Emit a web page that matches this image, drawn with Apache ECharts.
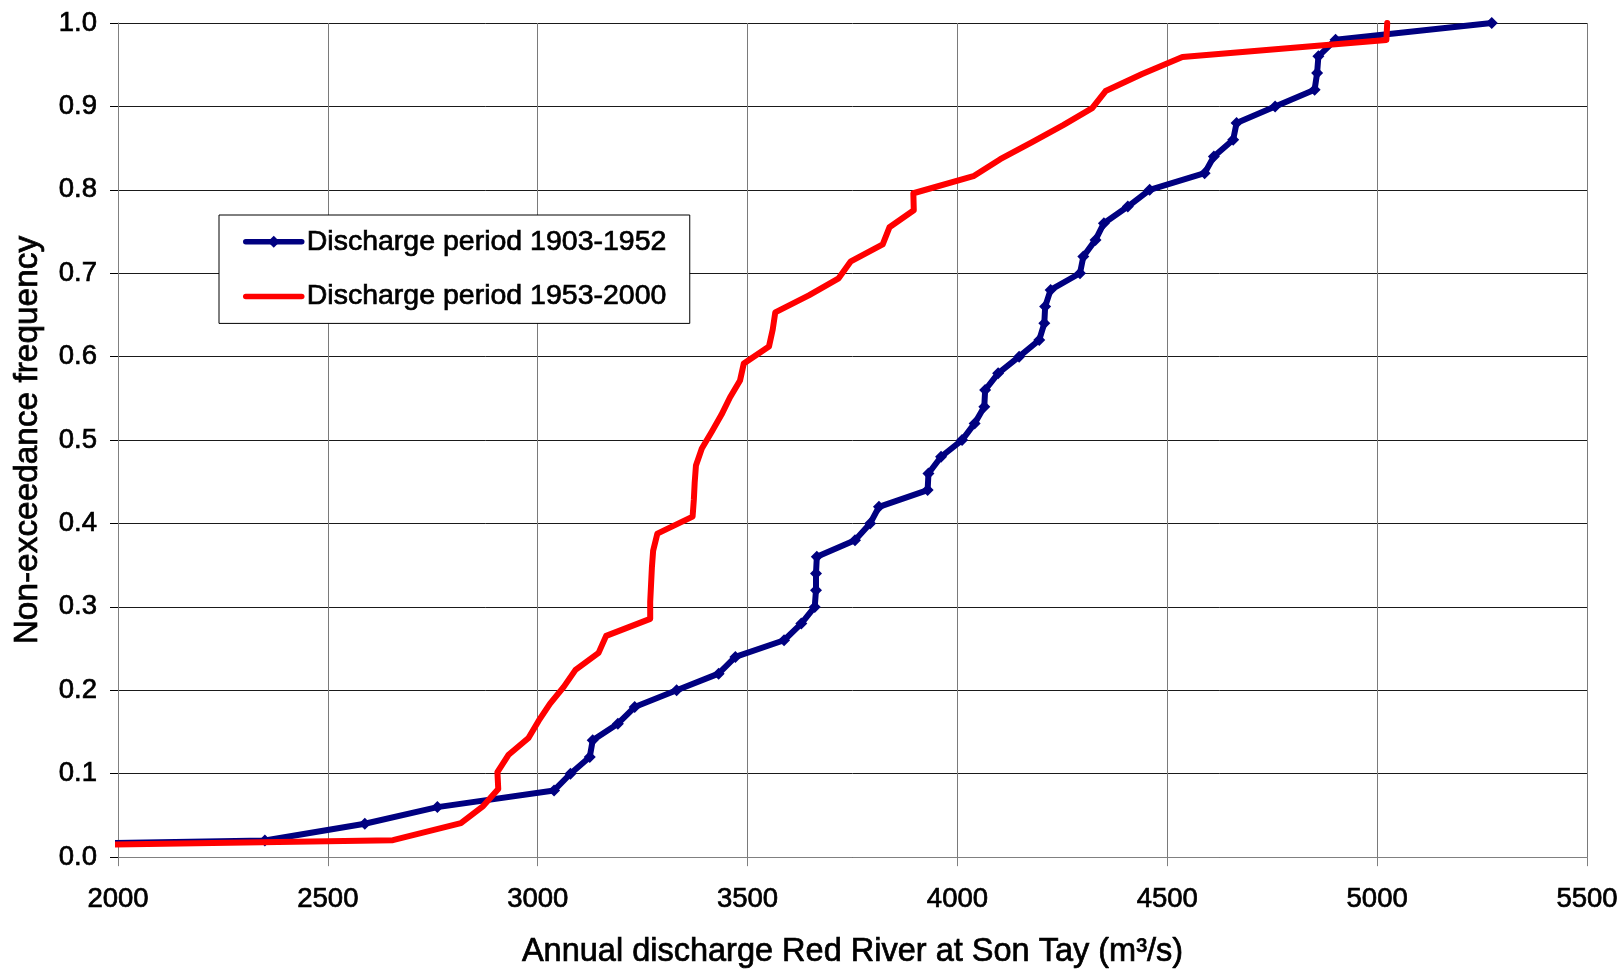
<!DOCTYPE html>
<html>
<head>
<meta charset="utf-8">
<title>Annual discharge Red River at Son Tay</title>
<script src="https://cdn.jsdelivr.net/npm/echarts@6/dist/echarts.min.js"></script>
<style>
  html, body { margin: 0; padding: 0; background: #fff; }
  #chart { width: 1624px; height: 974px; }
</style>
</head>
<body>
<div id="chart"></div>
<script>
// Annual discharge (m3/s), sorted, with its non-exceedance frequency.
// Each period starts from the origin (0, 0), which lies left of the visible axis range.
const period1Name = 'Discharge period 1903-1952';
const period1Discharge = [0, 2350, 2588, 2761, 3039, 3078, 3124, 3131, 3191, 3231, 3331,
  3431, 3471, 3587, 3628, 3660, 3663, 3663, 3665, 3756, 3792,
  3813, 3929, 3931, 3961, 4011, 4041, 4064, 4066, 4097, 4147,
  4195, 4207, 4209, 4222, 4292, 4300, 4329, 4349, 4406, 4458,
  4589, 4611, 4657, 4665, 4757, 4851, 4857, 4860, 4901, 5273];
const period1Frequency = [0, 0.02, 0.04, 0.06, 0.08, 0.10, 0.12, 0.14, 0.16, 0.18, 0.20,
  0.22, 0.24, 0.26, 0.28, 0.30, 0.32, 0.34, 0.36, 0.38, 0.40,
  0.42, 0.44, 0.46, 0.48, 0.50, 0.52, 0.54, 0.56, 0.58, 0.60,
  0.62, 0.64, 0.66, 0.68, 0.70, 0.72, 0.74, 0.76, 0.78, 0.80,
  0.82, 0.84, 0.86, 0.88, 0.90, 0.92, 0.94, 0.96, 0.98, 1.00];

const period2Name = 'Discharge period 1953-2000';
const period2Discharge = [0, 2655, 2817, 2870, 2906, 2904, 2930, 2978, 3002, 3029, 3062,
  3090, 3145, 3163, 3268, 3268, 3270, 3272, 3275, 3285, 3369,
  3372, 3374, 3377, 3391, 3415, 3438, 3458, 3482, 3491, 3551,
  3560, 3566, 3646, 3717, 3746, 3822, 3838, 3896, 3895, 4038,
  4102, 4178, 4252, 4321, 4353, 4440, 4536, 5022, 5024];
const period2Frequency = [0, 0.0204, 0.0408, 0.0612, 0.0816, 0.1020, 0.1224, 0.1429, 0.1633, 0.1837, 0.2041,
  0.2245, 0.2449, 0.2653, 0.2857, 0.3061, 0.3265, 0.3469, 0.3673, 0.3878, 0.4082,
  0.4286, 0.4490, 0.4694, 0.4898, 0.5102, 0.5306, 0.5510, 0.5714, 0.5918, 0.6122,
  0.6327, 0.6531, 0.6735, 0.6939, 0.7143, 0.7347, 0.7551, 0.7755, 0.7959, 0.8163,
  0.8367, 0.8571, 0.8776, 0.8980, 0.9184, 0.9388, 0.9592, 0.9796, 1.0000];

const xTicks = [2000, 2500, 3000, 3500, 4000, 4500, 5000, 5500];
const yTicks = [0.0, 0.1, 0.2, 0.3, 0.4, 0.5, 0.6, 0.7, 0.8, 0.9, 1.0];

const xTitle = 'Annual discharge Red River at Son Tay (m³/s)';
const yTitle = 'Non-exceedance frequency';

const pairs = (xs, ys) => xs.map((x, i) => [x, ys[i]]);

const FONT = '"Liberation Sans", Arial, sans-serif';
// slightly heavier glyphs than the plain regular face
const INK = { color: '#000', textBorderColor: '#000', textBorderWidth: 0.7 };

const chart = echarts.init(document.getElementById('chart'), null, { renderer: 'canvas' });

chart.setOption({
  animation: false,
  backgroundColor: '#ffffff',
  textStyle: { fontFamily: FONT, color: '#000' },
  grid: { left: 118, right: 37, top: 23, bottom: 113, containLabel: false },
  legend: {
    orient: 'vertical',
    left: 219,
    top: 215,
    padding: [12, 23, 12, 24],
    itemGap: 25,
    itemWidth: 56,
    itemHeight: 15,
    backgroundColor: '#ffffff',
    borderColor: '#000000',
    borderWidth: 1,
    borderRadius: 0,
    lineStyle: { width: 5.5, cap: 'round' },
    textStyle: Object.assign({ fontFamily: FONT, fontSize: 28.5, lineHeight: 28.5 }, INK),
    data: [
      { name: period1Name },
      { name: period2Name, itemStyle: { opacity: 0 } }
    ]
  },
  xAxis: {
    type: 'value',
    min: xTicks[0],
    max: xTicks[xTicks.length - 1],
    interval: 500,
    name: xTitle,
    nameLocation: 'middle',
    nameGap: 78.5,
    nameTextStyle: Object.assign({ fontFamily: FONT, fontSize: 32.5 }, INK),
    axisLine: { show: true, onZero: false, lineStyle: { color: '#808080', width: 1 } },
    axisTick: { show: true, length: 9, lineStyle: { color: '#808080' } },
    axisLabel: Object.assign({ fontFamily: FONT, fontSize: 27.5, margin: 28,
      formatter: v => String(v) }, INK),
    splitLine: { show: true, lineStyle: { color: '#7a7a7a', width: 1 } }
  },
  yAxis: {
    type: 'value',
    min: yTicks[0],
    max: yTicks[yTicks.length - 1],
    interval: 0.1,
    name: yTitle,
    nameLocation: 'middle',
    nameGap: 74,
    nameRotate: 90,
    nameTextStyle: Object.assign({ fontFamily: FONT, fontSize: 33.4 }, INK),
    axisLine: { show: true, lineStyle: { color: '#808080', width: 1 } },
    axisTick: { show: true, length: 8, lineStyle: { color: '#000' } },
    axisLabel: Object.assign({ fontFamily: FONT, fontSize: 27.5, margin: 21,
      formatter: v => v.toFixed(1) }, INK),
    splitLine: { show: true, lineStyle: { color: '#1a1a1a', width: 1 } }
  },
  series: [
    {
      name: period1Name,
      type: 'line',
      data: pairs(period1Discharge, period1Frequency),
      clip: true,
      symbol: 'diamond',
      symbolSize: [12, 12],
      showSymbol: true,
      color: '#000080',
      itemStyle: { color: '#000080' },
      lineStyle: { color: '#000080', width: 6, cap: 'round', join: 'round' },
      z: 2
    },
    {
      name: period2Name,
      type: 'line',
      data: pairs(period2Discharge, period2Frequency),
      clip: true,
      symbol: 'none',
      showSymbol: false,
      color: '#ff0000',
      itemStyle: { color: '#ff0000' },
      lineStyle: { color: '#ff0000', width: 6, cap: 'round', join: 'round' },
      z: 3
    }
  ]
});
</script>
</body>
</html>
